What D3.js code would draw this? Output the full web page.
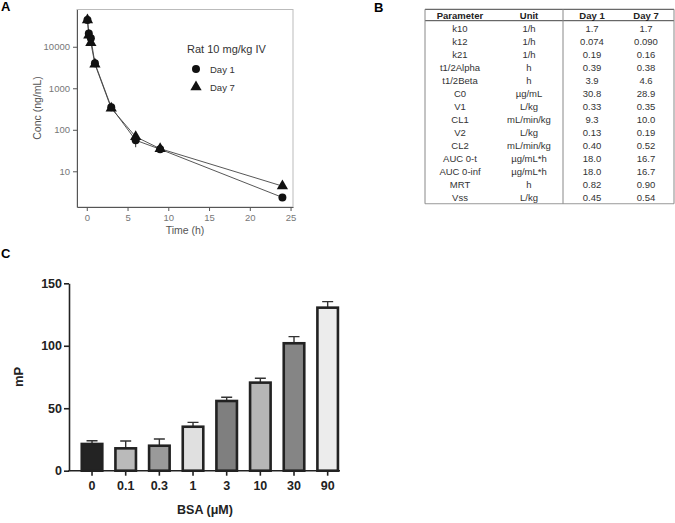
<!DOCTYPE html>
<html>
<head>
<meta charset="utf-8">
<script src="https://cdn.jsdelivr.net/npm/d3@7"></script>
<style>
  body { margin: 0; background: #fff; }
  svg { font-family: "Liberation Sans", Arial, sans-serif; display: block; }
</style>
</head>
<body>
<svg id="fig" width="675" height="523"></svg>
<script>
// ---- data ----
// panel A: PK curves (ng/mL)
const times = [0.083, 0.25, 0.5, 1, 3, 6, 9, 24]
const day1 = [44000, 21000, 16000, 4000, 350, 56, 34, 2.35]
const day7 = [44000, 19000, 12500, 3800, 330, 68, 35, 4.4]
const day1Err = [0, 0, 0, 0, 0, 18, 0, 0]
const xTicksA = [0, 5, 10, 15, 20, 25]
const yTicksA = [10, 100, 1000, 10000]

// panel B: parameter table
const params = ["k10", "k12", "k21", "t1/2Alpha", "t1/2Beta", "C0", "V1", "CL1", "V2", "CL2", "AUC 0-t", "AUC 0-inf", "MRT", "Vss"]
const units = ["1/h", "1/h", "1/h", "h", "h", "µg/mL", "L/kg", "mL/min/kg", "L/kg", "mL/min/kg", "µg/mL*h", "µg/mL*h", "h", "L/kg"]
const tblDay1 = ["1.7", "0.074", "0.19", "0.39", "3.9", "30.8", "0.33", "9.3", "0.13", "0.40", "18.0", "18.0", "0.82", "0.45"]
const tblDay7 = ["1.7", "0.090", "0.16", "0.38", "4.6", "28.9", "0.35", "10.0", "0.19", "0.52", "16.7", "16.7", "0.90", "0.54"]

// panel C: BSA bars
const bsa = ["0", "0.1", "0.3", "1", "3", "10", "30", "90"]
const mP = [21.4, 17.9, 20, 35.2, 55.8, 70.5, 102, 130.5]
const mPErr = [2.6, 5.9, 5.4, 3.5, 3, 3.5, 5.3, 4.8]
const barFills = ["#232323", "#bababa", "#9a9a9a", "#e0e0e0", "#7f7f7f", "#b6b6b6", "#858585", "#ececec"]
const yTicksC = [0, 50, 100, 150]

const svg = d3.select("#fig")

// ---------- panel A ----------
const gA = svg.append("g")
const xA = d3.scaleLinear().domain([-1.2, 25.3]).range([77, 293])
const yA = d3.scaleLog().domain([1.38, 79000]).range([207, 9.5])

gA.append("rect")
    .attr("x", 77).attr("y", 9.5)
    .attr("width", 216).attr("height", 197.5)
    .attr("fill", "none").attr("stroke", "#bbb").attr("stroke-width", 1)

const axA = gA.append("g")
    .attr("transform", "translate(0,207)")
    .call(d3.axisBottom(xA).tickValues(xTicksA).tickSize(4).tickSizeOuter(0))
const ayA = gA.append("g")
    .attr("transform", "translate(77,0)")
    .call(d3.axisLeft(yA).tickValues(yTicksA).tickFormat(d3.format("d")).tickSize(4).tickSizeOuter(0))
;[axA, ayA].forEach(a => {
    a.select(".domain").attr("stroke", "#555")
    a.selectAll(".tick line").attr("stroke", "#555")
    a.selectAll("text").attr("fill", "#777").attr("font-size", 9.5)
})

const line = d3.line().x(d => xA(d[0])).y(d => yA(d[1]))
gA.append("path").datum(d3.zip(times, day1)).attr("d", line)
    .attr("fill", "none").attr("stroke", "#444").attr("stroke-width", 0.9)
gA.append("path").datum(d3.zip(times, day7)).attr("d", line)
    .attr("fill", "none").attr("stroke", "#444").attr("stroke-width", 0.9)

// error bars day 1
gA.selectAll(".errA").data(times.map((t, i) => [t, day1[i], day1Err[i]]).filter(d => d[2] > 0))
    .enter().append("line")
    .attr("x1", d => xA(d[0])).attr("x2", d => xA(d[0]))
    .attr("y1", d => yA(d[1] - d[2])).attr("y2", d => yA(d[1] + d[2]))
    .attr("stroke", "#333").attr("stroke-width", 1)

const circ = d3.symbol().type(d3.symbolCircle).size(50)
const tri = d3.symbol().type(d3.symbolTriangle).size(55)
gA.selectAll(".p7").data(d3.zip(times, day7)).enter().append("path")
    .attr("d", tri)
    .attr("transform", d => "translate(" + xA(d[0]) + "," + yA(d[1]) + ")")
    .attr("fill", "#111")
gA.selectAll(".p1").data(d3.zip(times, day1)).enter().append("path")
    .attr("d", circ)
    .attr("transform", d => "translate(" + xA(d[0]) + "," + yA(d[1]) + ")")
    .attr("fill", "#111")

// legend
gA.append("text").attr("x", 187).attr("y", 53).attr("font-size", 11).attr("fill", "#333").text("Rat 10 mg/kg IV")
gA.append("path").attr("d", circ).attr("transform", "translate(196,69)").attr("fill", "#111")
gA.append("path").attr("d", tri).attr("transform", "translate(196,87)").attr("fill", "#111")
gA.append("text").attr("x", 210).attr("y", 72.5).attr("font-size", 9.5).attr("fill", "#333").text("Day 1")
gA.append("text").attr("x", 210).attr("y", 90.5).attr("font-size", 9.5).attr("fill", "#333").text("Day 7")

// axis titles
gA.append("text").attr("transform", "translate(41,108) rotate(-90)")
    .attr("text-anchor", "middle").attr("font-size", 10.5).attr("fill", "#555").text("Conc (ng/mL)")
gA.append("text").attr("x", 185).attr("y", 234)
    .attr("text-anchor", "middle").attr("font-size", 10.5).attr("fill", "#555").text("Time (h)")

svg.append("text").attr("x", 1).attr("y", 11).attr("font-size", 13).attr("font-weight", "bold").text("A")

// ---------- panel B ----------
svg.append("text").attr("x", 374).attr("y", 12).attr("font-size", 13).attr("font-weight", "bold").text("B")
const gB = svg.append("g")
const tblL = 425, tblR = 674, tblTop = 9.3, hdrBot = 20.7, rowH = 12.98
const rowY = d3.scaleLinear().domain([0, 1]).range([29, 29 + rowH])
const colX = [460, 529, 592, 646]
const tblBot = rowY(params.length - 1) + 6

gB.append("line").attr("x1", tblL).attr("x2", tblR).attr("y1", tblTop).attr("y2", tblTop).attr("stroke", "#444").attr("stroke-width", 1)
gB.append("line").attr("x1", tblL).attr("x2", tblR).attr("y1", hdrBot).attr("y2", hdrBot).attr("stroke", "#444").attr("stroke-width", 1)
gB.append("line").attr("x1", tblL).attr("x2", tblR).attr("y1", tblBot).attr("y2", tblBot).attr("stroke", "#999").attr("stroke-width", 1)
;[tblL, 563, tblR].forEach(x => {
    gB.append("line").attr("x1", x).attr("x2", x).attr("y1", tblTop).attr("y2", tblBot).attr("stroke", "#888").attr("stroke-width", 1)
})

const headers = ["Parameter", "Unit", "Day 1", "Day 7"]
headers.forEach((h, i) => {
    gB.append("text").attr("x", colX[i]).attr("y", 18.8)
        .attr("text-anchor", "middle").attr("font-size", 9.5).attr("font-weight", "bold").attr("fill", "#222").text(h)
})
const cols = [params, units, tblDay1, tblDay7]
cols.forEach((col, ci) => {
    gB.selectAll(".c" + ci).data(col).enter().append("text")
        .attr("x", colX[ci]).attr("y", (d, i) => rowY(i) + 3.3)
        .attr("text-anchor", "middle").attr("font-size", 9.5).attr("fill", "#333")
        .text(d => d)
})

// ---------- panel C ----------
svg.append("text").attr("x", 1).attr("y", 258).attr("font-size", 13).attr("font-weight", "bold").text("C")
const gC = svg.append("g")
const xC = d3.scaleBand().domain(bsa).range([75.2, 344.5]).paddingInner(0.39).paddingOuter(0.195)
const yC = d3.scaleLinear().domain([0, 150]).range([470.7, 283.3])

const ayC = gC.append("g").attr("transform", "translate(69,0)")
    .call(d3.axisLeft(yC).tickValues(yTicksC).tickSize(5).tickSizeOuter(0))
ayC.select(".domain").attr("stroke", "#222").attr("stroke-width", 1.6)
ayC.selectAll(".tick line").attr("stroke", "#222").attr("stroke-width", 1.6)
ayC.selectAll("text").attr("font-size", 12.5).attr("font-weight", "bold").attr("fill", "#222").attr("x", -7)

// error bars (above bars)
gC.selectAll(".eb").data(bsa).enter().append("path")
    .attr("d", (d, i) => {
        const cx = xC(d) + xC.bandwidth() / 2
        return "M" + cx + "," + yC(mP[i]) + "V" + yC(mP[i] + mPErr[i]) +
            "M" + (cx - 5.5) + "," + yC(mP[i] + mPErr[i]) + "H" + (cx + 5.5)
    })
    .attr("fill", "none").attr("stroke", "#333").attr("stroke-width", 1.4)

gC.selectAll(".bar").data(bsa).enter().append("rect")
    .attr("x", d => xC(d))
    .attr("width", xC.bandwidth())
    .attr("y", (d, i) => yC(mP[i]))
    .attr("height", (d, i) => yC(0) - yC(mP[i]))
    .attr("fill", (d, i) => barFills[i])
    .attr("stroke", "#222").attr("stroke-width", 2.6)

// x axis
const axC = gC.append("g").attr("transform", "translate(0,470.7)")
    .call(d3.axisBottom(xC).tickSize(5).tickSizeOuter(0))
axC.select(".domain").attr("d", "M68.2,0H340").attr("stroke", "#222").attr("stroke-width", 1.6)
axC.selectAll(".tick line").attr("stroke", "#222").attr("stroke-width", 1.6)
axC.selectAll("text").attr("font-size", 12.5).attr("font-weight", "bold").attr("fill", "#222").attr("y", 10)

gC.append("text").attr("transform", "translate(23,377) rotate(-90)")
    .attr("text-anchor", "middle").attr("font-size", 13).attr("font-weight", "bold").attr("fill", "#222").text("mP")
gC.append("text").attr("x", 205).attr("y", 514)
    .attr("text-anchor", "middle").attr("font-size", 12.5).attr("font-weight", "bold").attr("fill", "#222").text("BSA (μM)")
</script>
</body>
</html>
